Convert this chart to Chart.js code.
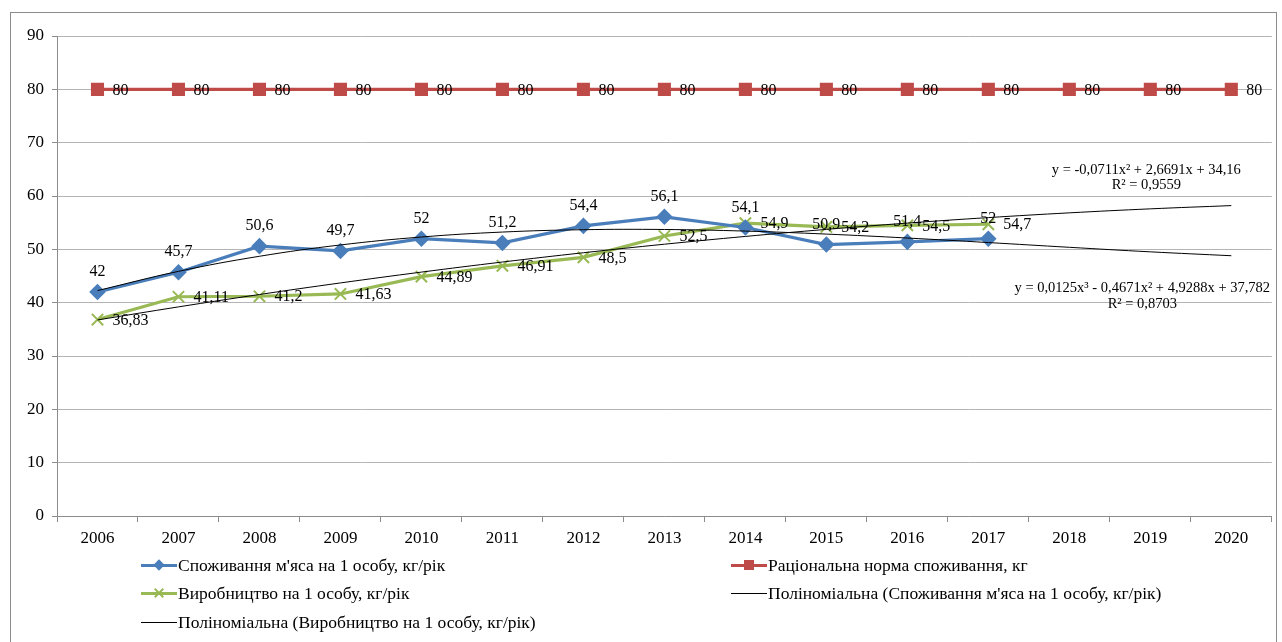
<!DOCTYPE html>
<html>
<head>
<meta charset="utf-8">
<script src="https://cdn.jsdelivr.net/npm/chart.js@4.4.0/dist/chart.umd.min.js"></script>
<style>
  body { margin: 0; background: #fff; font-family: "Liberation Serif", serif; }
  #frame { position: absolute; left: 10px; top: 12px; width: 1267px; height: 640px; border: 1.5px solid #8c8c8c; box-sizing: border-box; }
  #wrap { position: absolute; left: 0; top: 0; width: 1282px; height: 642px; }
  .leg { position: absolute; font-size: 17.5px; color: #000; white-space: nowrap; line-height: 20px; }
  .sym { position: absolute; left: 0; top: 10px; width: 36px; }
  .ln { position: absolute; left: 0; width: 36px; }
  .txt { position: absolute; left: 37px; top: 0; }
</style>
</head>
<body>
<div id="frame"></div>
<div id="wrap"><canvas id="meatChart"></canvas></div>
<div id="legend"></div>
<script>
// years
var years = ['2006', '2007', '2008', '2009', '2010', '2011', '2012', '2013', '2014', '2015', '2016', '2017', '2018', '2019', '2020'];
// споживання м'яса на 1 особу
var consumption = [42, 45.7, 50.6, 49.7, 52, 51.2, 54.4, 56.1, 54.1, 50.9, 51.4, 52];
// раціональна норма
var norm = [80, 80, 80, 80, 80, 80, 80, 80, 80, 80, 80, 80, 80, 80, 80];
// виробництво на 1 особу
var production = [36.83, 41.11, 41.2, 41.63, 44.89, 46.91, 48.5, 52.5, 54.9, 54.2, 54.5, 54.7];
// тренди (значення з рівнянь на графіку)
var consumptionTrend = [42.26, 45.87, 48.70, 50.82, 52.31, 53.24, 53.68, 53.72, 53.42, 52.86, 52.12, 51.27, 50.38, 49.53, 48.80];
var productionTrend = [36.76, 39.21, 41.53, 43.70, 45.73, 47.62, 49.36, 50.96, 52.42, 53.74, 54.92, 55.95, 56.84, 57.59, 58.20];
var yTicks = [0, 10, 20, 30, 40, 50, 60, 70, 80, 90];

var BLUE = '#4A7EBB', RED = '#BE4B48', GREEN = '#98B954';
var FONT = '"Liberation Serif", "Times New Roman", serif';

function fmt(v) { return String(v).replace('.', ','); }

// підписи значень
var labelsPlugin = {
    id: 'valueLabels',
    afterDatasetsDraw: function (chart) {
        var ctx = chart.ctx;
        ctx.save();
        ctx.font = '16px ' + FONT;
        ctx.fillStyle = '#000';
        chart.data.datasets.forEach(function (ds, i) {
            if (!ds.labelPos) return;
            var meta = chart.getDatasetMeta(i);
            meta.data.forEach(function (pt, j) {
                var v = ds.data[j];
                if (v == null) return;
                if (ds.labelPos === 'top') {
                    ctx.textAlign = 'center';
                    ctx.textBaseline = 'middle';
                    ctx.fillText(fmt(v), pt.x, pt.y - 20);
                } else {
                    ctx.textAlign = 'left';
                    ctx.textBaseline = 'middle';
                    ctx.fillText(fmt(v), pt.x + 15, pt.y + 1);
                }
            });
        });
        // рівняння трендів
        var xs = chart.scales.x, ys = chart.scales.y;
        var cx = xs.getPixelForValue(13) - 4;
        ctx.font = '14.5px ' + FONT;
        ctx.textAlign = 'center';
        ctx.textBaseline = 'middle';
        ctx.fillText('y = -0,0711x² + 2,6691x + 34,16', cx, ys.getPixelForValue(64.9));
        ctx.fillText('R² = 0,9559', cx, ys.getPixelForValue(62.1));
        ctx.fillText('y = 0,0125x³ - 0,4671x² + 4,9288x + 37,782', cx - 4, ys.getPixelForValue(42.7));
        ctx.fillText('R² = 0,8703', cx - 4, ys.getPixelForValue(39.7));
        ctx.restore();
    }
};

var meatChart = new Chart(document.getElementById('meatChart'), {
    type: 'line',
    data: {
        labels: years,
        datasets: [{
            label: "Споживання м'яса на 1 особу, кг/рік",
            data: consumption,
            borderColor: BLUE, backgroundColor: BLUE,
            borderWidth: 3.2, pointStyle: 'rectRot', pointRadius: 6,
            labelPos: 'top', order: 2
        }, {
            label: 'Раціональна норма споживання, кг',
            data: norm,
            borderColor: RED, backgroundColor: RED,
            borderWidth: 3.2, pointStyle: 'rect', pointRadius: 7,
            labelPos: 'right', order: 3
        }, {
            label: 'Виробництво на 1 особу, кг/рік',
            data: production,
            borderColor: GREEN, backgroundColor: GREEN,
            borderWidth: 3.2, pointStyle: 'crossRot', pointRadius: 8, pointBorderWidth: 2,
            labelPos: 'right', order: 2
        }, {
            label: "Поліноміальна (Споживання м'яса на 1 особу, кг/рік)",
            data: consumptionTrend,
            borderColor: '#000', borderWidth: 1, pointRadius: 0, tension: 0.4, order: 0
        }, {
            label: 'Поліноміальна (Виробництво на 1 особу, кг/рік)',
            data: productionTrend,
            borderColor: '#000', borderWidth: 1, pointRadius: 0, tension: 0.4, order: 0
        }]
    },
    options: {
        animation: false,
        responsive: true,
        maintainAspectRatio: false,
        layout: { padding: { left: 0, top: 36, right: 10, bottom: 86 } },
        plugins: { legend: { display: false }, tooltip: { enabled: false } },
        scales: {
            y: {
                min: 0, max: 90,
                afterBuildTicks: function (s) { s.ticks = yTicks.map(function (v) { return { value: v }; }); },
                afterFit: function (s) { s.width = 57; },
                ticks: { color: '#000', font: { family: FONT, size: 17 }, padding: 8 },
                grid: { color: '#b4b4b4', tickLength: 5, tickColor: '#8c8c8c' },
                border: { color: '#8c8c8c' }
            },
            x: {
                offset: true,
                afterFit: function (s) { s.height = 40; },
                ticks: { color: '#000', font: { family: FONT, size: 17 }, padding: 6, maxRotation: 0 },
                grid: { offset: true, drawOnChartArea: false, tickLength: 6, color: '#8c8c8c' },
                border: { color: '#8c8c8c' }
            }
        }
    },
    plugins: [labelsPlugin]
});

// легенда у два стовпці
var legendItems = [
    { text: "Споживання м'яса на 1 особу, кг/рік", color: BLUE, mark: 'diamond', left: 141, top: 555 },
    { text: 'Раціональна норма споживання, кг', color: RED, mark: 'square', left: 731, top: 555 },
    { text: 'Виробництво на 1 особу, кг/рік', color: GREEN, mark: 'cross', left: 141, top: 583 },
    { text: "Поліноміальна (Споживання м'яса на 1 особу, кг/рік)", color: '#000', mark: 'none', left: 731, top: 583 },
    { text: 'Поліноміальна (Виробництво на 1 особу, кг/рік)', color: '#000', mark: 'none', left: 141, top: 612 }
];
var legend = document.getElementById('legend');
legendItems.forEach(function (it) {
    var d = document.createElement('div');
    d.className = 'leg';
    d.style.left = it.left + 'px';
    d.style.top = it.top + 'px';
    var thick = it.mark === 'none' ? 1 : 3;
    var html = '<div class="sym"><div class="ln" style="top:' + (-thick / 2) + 'px;height:' + thick + 'px;background:' + it.color + '"></div>';
    if (it.mark === 'diamond') {
        html += '<div style="position:absolute;left:14px;top:-4px;width:8px;height:8px;background:' + it.color + ';transform:rotate(45deg)"></div>';
    } else if (it.mark === 'square') {
        html += '<div style="position:absolute;left:13px;top:-5px;width:10px;height:10px;background:' + it.color + '"></div>';
    } else if (it.mark === 'cross') {
        html += '<div style="position:absolute;left:12px;top:-1px;width:12px;height:2px;background:' + it.color + ';transform:rotate(45deg)"></div>';
        html += '<div style="position:absolute;left:12px;top:-1px;width:12px;height:2px;background:' + it.color + ';transform:rotate(-45deg)"></div>';
    }
    html += '</div><div class="txt">' + it.text + '</div>';
    d.innerHTML = html;
    legend.appendChild(d);
});
</script>
</body>
</html>
